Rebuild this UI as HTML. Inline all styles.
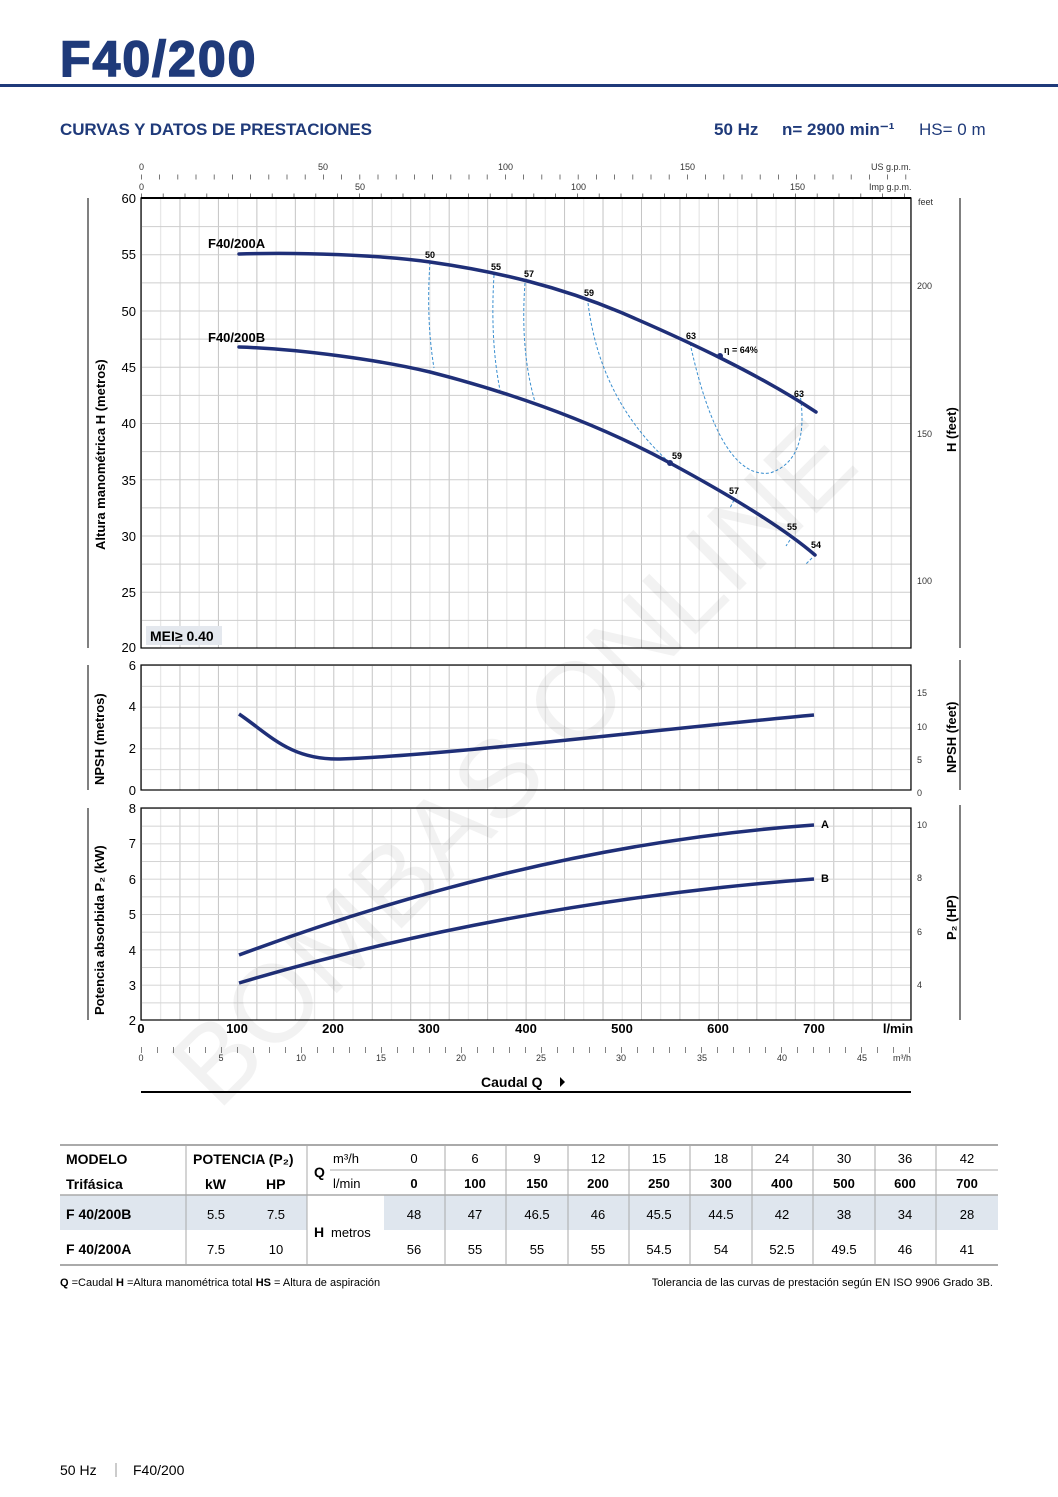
<!DOCTYPE html>
<html><head><meta charset="utf-8"><style>
body{margin:0;background:#fff}
svg{display:block}
text{font-family:"Liberation Sans",sans-serif}
</style></head><body>
<svg width="1058" height="1497" viewBox="0 0 1058 1497" xmlns="http://www.w3.org/2000/svg">
<defs>
<pattern id="gv" x="141" y="0" width="38.46" height="10" patternUnits="userSpaceOnUse">
<line x1="0.5" y1="0" x2="0.5" y2="10" stroke="#c4c4c4" stroke-width="1"/>
<line x1="19.7" y1="0" x2="19.7" y2="10" stroke="#e2e2e2" stroke-width="1"/>
</pattern>
<pattern id="gh1" x="0" y="198" width="10" height="28.125" patternUnits="userSpaceOnUse">
<line x1="0" y1="0.5" x2="10" y2="0.5" stroke="#cdcdcd" stroke-width="1"/>
</pattern>
<pattern id="gh2" x="0" y="665" width="10" height="20.83" patternUnits="userSpaceOnUse">
<line x1="0" y1="0.5" x2="10" y2="0.5" stroke="#d4d4d4" stroke-width="1"/>
</pattern>
<pattern id="gh3" x="0" y="808" width="10" height="17.67" patternUnits="userSpaceOnUse">
<line x1="0" y1="0.5" x2="10" y2="0.5" stroke="#d4d4d4" stroke-width="1"/>
</pattern>
</defs>

<text x="60" y="76" font-size="50" font-weight="bold" fill="#1f3a7a" letter-spacing="2" stroke="#1f3a7a" stroke-width="1.5">F40/200</text>
<rect x="0" y="84" width="1058" height="3" fill="#1f3a7a"/>
<text x="60" y="135" font-size="17" font-weight="bold" fill="#1f3a7a" textLength="312">CURVAS Y DATOS DE PRESTACIONES</text>
<text x="714" y="135" font-size="17" font-weight="bold" fill="#1f3a7a">50 Hz</text>
<text x="782" y="135" font-size="17" font-weight="bold" fill="#1f3a7a">n= 2900 min⁻¹</text>
<text x="919" y="135" font-size="17" fill="#1f3a7a">HS= 0 m</text>

<g font-size="9" fill="#333">
<line x1="141" y1="177" x2="911" y2="177" stroke="#555" stroke-width="5" stroke-dasharray="0.8 17.4"/>
<line x1="141" y1="196" x2="911" y2="196" stroke="#555" stroke-width="5" stroke-dasharray="0.8 21"/>
<text x="139" y="170">0</text><text x="318" y="170">50</text><text x="498" y="170">100</text><text x="680" y="170">150</text><text x="871" y="170">US g.p.m.</text>
<text x="139" y="190">0</text><text x="355" y="190">50</text><text x="571" y="190">100</text><text x="790" y="190">150</text><text x="869" y="190">Imp g.p.m.</text>
<text x="918" y="205">feet</text>
</g>

<rect x="141" y="198" width="770" height="450" fill="url(#gv)"/>
<rect x="141" y="198" width="770" height="450" fill="url(#gh1)"/>
<rect x="141" y="198" width="770" height="450" fill="none" stroke="#000" stroke-width="1.2"/>
<line x1="141" y1="198" x2="911" y2="198" stroke="#000" stroke-width="2"/>
<g font-size="13" text-anchor="end" fill="#000">
<text x="136" y="203">60</text><text x="136" y="259">55</text><text x="136" y="316">50</text><text x="136" y="372">45</text><text x="136" y="428">40</text><text x="136" y="485">35</text><text x="136" y="541">30</text><text x="136" y="597">25</text><text x="136" y="652">20</text>
</g>
<g font-size="9" fill="#333">
<text x="917" y="289">200</text><text x="917" y="437">150</text><text x="917" y="584">100</text>
</g>
<rect x="146" y="626" width="76" height="19" fill="#e4e8ee"/>
<text x="150" y="641" font-size="14" font-weight="bold">MEI≥ 0.40</text>
<text x="105" y="550" font-size="13" font-weight="bold" transform="rotate(-90 105 550)">Altura manométrica H (metros)</text>
<text x="956" y="452" font-size="13" font-weight="bold" transform="rotate(-90 956 452)">H (feet)</text>
<line x1="88" y1="198" x2="88" y2="648" stroke="#000"/>
<line x1="960" y1="198" x2="960" y2="648" stroke="#000"/>

<g fill="none" stroke="#3a8fd0" stroke-width="1" stroke-dasharray="3 2">
<path d="M430 262 Q426 320 434 368"/>
<path d="M494 275 Q490 340 500 390"/>
<path d="M525 283 Q520 350 535 402"/>
<path d="M588 303 Q600 400 670 463"/>
<path d="M690 343 Q720 480 770 473 Q810 460 800 394"/>
<path d="M734 500 L730 508"/><path d="M790 540 L786 546"/><path d="M812 558 L806 564"/>
</g>
<g fill="none" stroke="#1f2f78" stroke-width="3.5" stroke-linecap="round">
<path d="M239 254 C300 252 380 255 430 262 C500 272 560 287 620 312 C690 342 760 375 816 412"/>
<path d="M239 347 C300 349 380 360 430 372 C520 395 600 425 670 463 C720 490 780 525 815 555"/>
</g>
<circle cx="720" cy="356" r="3" fill="#1f2f78"/><circle cx="670" cy="463" r="3" fill="#1f2f78"/>
<g font-size="9" font-weight="bold">
<text x="425" y="258">50</text><text x="491" y="270">55</text><text x="524" y="277">57</text><text x="584" y="296">59</text><text x="686" y="339">63</text><text x="724" y="353">η = 64%</text><text x="794" y="397">63</text><text x="672" y="459">59</text><text x="729" y="494">57</text><text x="787" y="530">55</text><text x="811" y="548">54</text>
</g>
<text x="208" y="248" font-size="13" font-weight="bold">F40/200A</text>
<text x="208" y="342" font-size="13" font-weight="bold">F40/200B</text>

<rect x="141" y="665" width="770" height="125" fill="url(#gv)"/>
<rect x="141" y="665" width="770" height="125" fill="url(#gh2)"/>
<rect x="141" y="665" width="770" height="125" fill="none" stroke="#000" stroke-width="1.2"/>
<g font-size="13" text-anchor="end"><text x="136" y="670">6</text><text x="136" y="711">4</text><text x="136" y="753">2</text><text x="136" y="795">0</text></g>
<g font-size="9" fill="#333"><text x="917" y="696">15</text><text x="917" y="730">10</text><text x="917" y="763">5</text><text x="917" y="796">0</text></g>
<path d="M239 714 C270 735 290 760 340 759 C450 755 650 730 814 715" fill="none" stroke="#1f2f78" stroke-width="3.5"/>
<text x="104" y="785" font-size="13" font-weight="bold" transform="rotate(-90 104 785)">NPSH (metros)</text>
<text x="956" y="773" font-size="13" font-weight="bold" transform="rotate(-90 956 773)">NPSH (feet)</text>
<line x1="88" y1="665" x2="88" y2="790" stroke="#000"/><line x1="960" y1="660" x2="960" y2="790" stroke="#000"/>

<rect x="141" y="808" width="770" height="212" fill="url(#gv)"/>
<rect x="141" y="808" width="770" height="212" fill="url(#gh3)"/>
<rect x="141" y="808" width="770" height="212" fill="none" stroke="#000" stroke-width="1.2"/>
<g font-size="13" text-anchor="end"><text x="136" y="813">8</text><text x="136" y="848">7</text><text x="136" y="884">6</text><text x="136" y="919">5</text><text x="136" y="955">4</text><text x="136" y="990">3</text><text x="136" y="1025">2</text></g>
<g font-size="9" fill="#333"><text x="917" y="828">10</text><text x="917" y="881">8</text><text x="917" y="935">6</text><text x="917" y="988">4</text></g>
<g fill="none" stroke="#1f2f78" stroke-width="3.5">
<path d="M239 955 C400 895 600 840 814 825"/>
<path d="M239 983 C400 935 600 895 814 879"/>
</g>
<text x="821" y="828" font-size="11" font-weight="bold">A</text><text x="821" y="882" font-size="11" font-weight="bold">B</text>
<text x="104" y="1015" font-size="13" font-weight="bold" transform="rotate(-90 104 1015)">Potencia absorbida P₂ (kW)</text>
<text x="956" y="940" font-size="13" font-weight="bold" transform="rotate(-90 956 940)">P₂ (HP)</text>
<line x1="88" y1="808" x2="88" y2="1020" stroke="#000"/><line x1="960" y1="805" x2="960" y2="1020" stroke="#000"/>

<g font-size="13" font-weight="bold" text-anchor="middle">
<text x="141" y="1033">0</text><text x="237" y="1033">100</text><text x="333" y="1033">200</text><text x="429" y="1033">300</text><text x="526" y="1033">400</text><text x="622" y="1033">500</text><text x="718" y="1033">600</text><text x="814" y="1033">700</text><text x="898" y="1033">l/min</text>
</g>
<line x1="141" y1="1050" x2="911" y2="1050" stroke="#666" stroke-width="6" stroke-dasharray="0.8 15.2"/>
<g font-size="9" fill="#333" text-anchor="middle">
<text x="141" y="1061">0</text><text x="221" y="1061">5</text><text x="301" y="1061">10</text><text x="381" y="1061">15</text><text x="461" y="1061">20</text><text x="541" y="1061">25</text><text x="621" y="1061">30</text><text x="702" y="1061">35</text><text x="782" y="1061">40</text><text x="862" y="1061">45</text><text x="902" y="1061">m³/h</text>
</g>
<text x="481" y="1087" font-size="14" font-weight="bold">Caudal Q</text>
<path d="M560 1077 L565 1082 L560 1087Z" fill="#000"/>
<line x1="141" y1="1092" x2="911" y2="1092" stroke="#000" stroke-width="2"/>

<text x="540" y="790" font-size="110" fill="#000" fill-opacity="0.05" font-family="Liberation Serif,serif" text-anchor="middle" transform="rotate(-45 540 790)">BOMBAS ONLINE</text>

<rect x="60" y="1195" width="938" height="35" fill="#dfe6ee"/>
<rect x="307" y="1195" width="77" height="35" fill="#fff"/>
<line x1="60" y1="1145" x2="998" y2="1145" stroke="#aaa" stroke-width="2"/>
<line x1="60" y1="1195" x2="998" y2="1195" stroke="#aaa" stroke-width="1.5"/>
<line x1="60" y1="1265" x2="998" y2="1265" stroke="#aaa" stroke-width="2"/>
<line x1="330" y1="1170" x2="998" y2="1170" stroke="#aaa"/>
<g stroke="#aaa"><line x1="186" y1="1145" x2="186" y2="1265"/><line x1="307" y1="1145" x2="307" y2="1265"/>
<line x1="445" y1="1145" x2="445" y2="1265"/><line x1="506" y1="1145" x2="506" y2="1265"/><line x1="568" y1="1145" x2="568" y2="1265"/><line x1="629" y1="1145" x2="629" y2="1265"/><line x1="690" y1="1145" x2="690" y2="1265"/><line x1="752" y1="1145" x2="752" y2="1265"/><line x1="813" y1="1145" x2="813" y2="1265"/><line x1="875" y1="1145" x2="875" y2="1265"/><line x1="936" y1="1145" x2="936" y2="1265"/></g>
<g font-size="14" font-weight="bold"><text x="66" y="1164">MODELO</text><text x="66" y="1189">Trifásica</text><text x="193" y="1164">POTENCIA (P₂)</text><text x="205" y="1189">kW</text><text x="266" y="1189">HP</text><text x="66" y="1219">F 40/200B</text><text x="66" y="1254">F 40/200A</text><text x="314" y="1177">Q</text><text x="314" y="1237">H</text></g>
<g font-size="13"><text x="333" y="1163">m³/h</text><text x="333" y="1188">l/min</text><text x="331" y="1237">metros</text></g>
<g font-size="13" text-anchor="middle">
<text x="216" y="1219">5.5</text><text x="276" y="1219">7.5</text><text x="216" y="1254">7.5</text><text x="276" y="1254">10</text>
<text x="414" y="1163">0</text><text x="475" y="1163">6</text><text x="537" y="1163">9</text><text x="598" y="1163">12</text><text x="659" y="1163">15</text><text x="721" y="1163">18</text><text x="782" y="1163">24</text><text x="844" y="1163">30</text><text x="905" y="1163">36</text><text x="967" y="1163">42</text>
<text x="414" y="1219">48</text><text x="475" y="1219">47</text><text x="537" y="1219">46.5</text><text x="598" y="1219">46</text><text x="659" y="1219">45.5</text><text x="721" y="1219">44.5</text><text x="782" y="1219">42</text><text x="844" y="1219">38</text><text x="905" y="1219">34</text><text x="967" y="1219">28</text>
<text x="414" y="1254">56</text><text x="475" y="1254">55</text><text x="537" y="1254">55</text><text x="598" y="1254">55</text><text x="659" y="1254">54.5</text><text x="721" y="1254">54</text><text x="782" y="1254">52.5</text><text x="844" y="1254">49.5</text><text x="905" y="1254">46</text><text x="967" y="1254">41</text>
</g>
<g font-size="13" font-weight="bold" text-anchor="middle">
<text x="414" y="1188">0</text><text x="475" y="1188">100</text><text x="537" y="1188">150</text><text x="598" y="1188">200</text><text x="659" y="1188">250</text><text x="721" y="1188">300</text><text x="782" y="1188">400</text><text x="844" y="1188">500</text><text x="905" y="1188">600</text><text x="967" y="1188">700</text>
</g>
<text x="60" y="1286" font-size="11"><tspan font-weight="bold">Q</tspan> =Caudal  <tspan font-weight="bold">H</tspan> =Altura manométrica total  <tspan font-weight="bold">HS</tspan> = Altura de aspiración</text>
<text x="993" y="1286" font-size="11" text-anchor="end">Tolerancia de las curvas de prestación según EN ISO 9906 Grado 3B.</text>

<text x="60" y="1475" font-size="14">50 Hz</text>
<line x1="116" y1="1463" x2="116" y2="1477" stroke="#999"/>
<text x="133" y="1475" font-size="14">F40/200</text>
</svg>
</body></html>
